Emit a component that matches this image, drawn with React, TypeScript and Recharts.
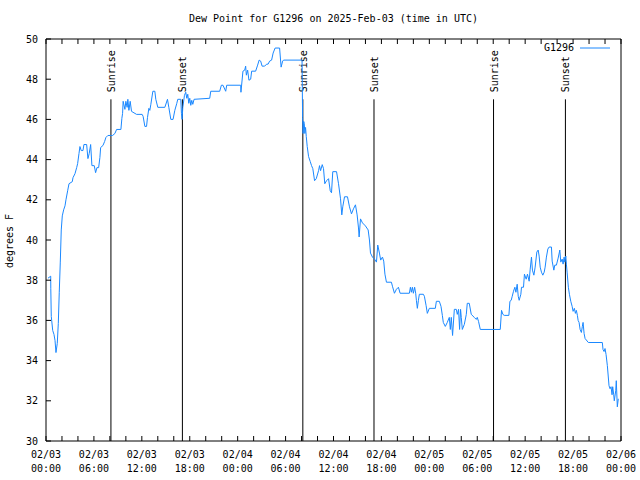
import React from 'react';
import { LineChart, Line, XAxis, YAxis, ReferenceLine, Legend } from 'recharts';

// hours since 02/03 00:00 UTC, dew point in F
const day1 = [
  [0.25, 38.1], [0.59, 38.2], [0.6, 37.6], [0.66, 36.2], [0.84, 35.5], [1.0, 35.3], [1.13, 35.0], [1.25, 34.4],
  [1.41, 34.85], [1.54, 35.85], [1.66, 37.4], [1.79, 38.9], [1.91, 40.5], [2.04, 41.2], [2.21, 41.5], [2.38, 41.7],
  [2.5, 42.0], [2.71, 42.45], [2.88, 42.8], [3.29, 42.9], [3.38, 43.1], [3.63, 43.3], [3.84, 43.6], [3.96, 43.8],
  [4.13, 44.3], [4.25, 44.65], [4.41, 44.45], [4.63, 44.45], [4.75, 44.75], [5.09, 44.75], [5.25, 44.05], [5.41, 44.3],
  [5.59, 44.75], [5.75, 43.7], [6.04, 43.7], [6.21, 43.35], [6.38, 43.6], [6.59, 43.6], [6.75, 44.1], [6.84, 44.6],
  [7.13, 44.7], [7.34, 44.9], [7.5, 45.1], [7.75, 45.2], [8.13, 45.2], [8.34, 45.2], [8.63, 45.3], [8.84, 45.5],
  [9.38, 45.5], [9.5, 46.05], [9.59, 46.3], [9.66, 46.9], [9.88, 46.5], [10.0, 46.9], [10.16, 46.6], [10.25, 47.0],
  [10.38, 46.45], [10.54, 46.9], [10.71, 46.4], [11.34, 46.25], [12.04, 46.25], [12.16, 46.15], [12.38, 45.65],
  [12.59, 45.65], [12.71, 46.1], [12.88, 46.55], [13.0, 46.45], [13.13, 46.75], [13.38, 47.4], [13.63, 47.4],
  [13.75, 47.0], [14.0, 46.6], [14.88, 46.6], [15.21, 47.0], [15.38, 46.6], [15.63, 46.0], [15.91, 46.0],
  [16.13, 46.45], [16.38, 46.8], [16.5, 47.0], [16.88, 47.0], [16.96, 46.3], [17.04, 46.0], [17.13, 46.6],
  [17.34, 47.2], [17.5, 47.35], [17.63, 47.05], [17.75, 47.25], [17.88, 46.8], [18.0, 47.05], [18.13, 46.7],
  [18.25, 46.95], [18.38, 46.75], [18.54, 47.0], [20.5, 47.05], [20.63, 47.4], [21.75, 47.4], [21.96, 47.7],
  [22.16, 47.7], [22.5, 47.4], [22.63, 47.7], [24.38, 47.7],
];

const day2 = [
  [24.41, 47.35], [24.66, 48.4], [24.88, 48.45], [25.0, 48.65], [25.09, 48.2], [25.25, 48.45], [25.41, 47.95],
  [25.63, 48.0], [25.75, 48.4], [26.25, 48.4], [26.5, 48.7], [26.69, 48.95], [26.88, 48.9], [27.06, 48.65],
  [27.38, 48.65], [27.63, 48.75], [27.81, 48.75], [28.0, 48.9], [28.25, 48.95], [28.44, 49.3], [28.69, 49.55],
  [29.25, 49.55], [29.44, 48.6], [29.63, 48.9], [29.75, 48.95], [32.06, 48.95], [32.13, 46.1], [32.19, 45.3],
  [32.27, 45.9], [32.34, 45.8], [32.41, 45.3], [32.5, 45.6], [32.59, 45.15], [32.71, 44.65], [32.88, 44.15],
  [33.09, 43.9], [33.25, 43.7], [33.41, 43.55], [33.63, 42.95], [33.84, 43.05], [34.13, 43.45], [34.25, 43.7],
  [34.38, 43.45], [34.59, 43.75], [34.75, 43.55], [34.91, 42.8], [35.13, 42.95], [35.38, 43.05], [35.59, 42.45],
  [35.75, 42.35], [35.91, 43.4], [36.38, 43.4], [36.63, 42.8], [36.88, 42.05], [37.04, 41.25], [37.16, 41.65],
  [37.38, 42.15], [37.75, 42.15], [38.0, 41.65], [38.25, 41.3], [38.5, 41.55], [38.75, 41.75], [38.96, 41.25],
  [39.13, 40.6], [39.21, 40.15], [39.38, 41.05], [39.63, 40.85], [40.0, 40.7], [40.34, 40.5], [40.5, 40.0],
  [40.63, 39.35], [40.88, 39.15], [41.13, 39.05], [41.38, 38.9], [41.54, 39.75], [41.75, 39.35], [41.91, 39.0],
  [42.13, 39.15], [42.29, 38.95], [42.44, 38.3], [42.63, 37.9], [43.25, 37.9], [43.38, 37.7], [43.63, 37.35],
  [43.88, 37.55], [44.13, 37.65], [44.34, 37.35], [45.5, 37.35], [45.63, 37.65], [45.75, 37.4], [45.88, 37.65],
  [46.0, 37.35], [46.16, 37.65], [46.29, 37.35], [46.38, 37.0], [46.5, 36.6], [46.63, 37.0], [46.75, 37.3],
  [47.25, 37.3], [47.38, 37.2], [47.59, 36.75], [47.75, 36.35], [48.0, 36.6],
];

const day3 = [
  [48.75, 36.6], [48.88, 36.95], [49.25, 36.95], [49.46, 36.7], [49.63, 36.25], [49.75, 35.9], [50.0, 35.7],
  [50.25, 35.9], [50.5, 36.15], [50.63, 35.55], [50.75, 36.15], [50.91, 35.25], [51.13, 36.55], [51.38, 36.55],
  [51.5, 36.3], [51.66, 36.55], [51.79, 35.55], [51.91, 36.55], [52.0, 36.15], [52.13, 35.55], [52.38, 35.8],
  [52.63, 36.3], [52.75, 36.85], [53.0, 36.85], [53.25, 36.3], [53.63, 36.15], [53.88, 36.05], [54.0, 36.15],
  [54.16, 35.95], [54.38, 35.55], [56.88, 35.55], [57.04, 36.5], [57.21, 36.3], [57.38, 36.25], [57.96, 36.25],
  [58.09, 36.95], [58.25, 37.0], [58.38, 37.2], [58.54, 37.45], [58.71, 37.65], [58.84, 37.4], [59.0, 37.8],
  [59.13, 37.2], [59.25, 37.0], [59.46, 37.3], [59.54, 37.65], [59.79, 37.65], [59.91, 38.3], [60.13, 38.05],
  [60.29, 38.3], [60.5, 37.95], [60.63, 38.55], [60.79, 39.15], [60.91, 38.5], [61.09, 38.25], [61.25, 38.65],
  [61.46, 39.4], [61.63, 39.5], [61.75, 39.2], [61.88, 38.65], [62.04, 38.4], [62.21, 38.25], [62.38, 38.4],
  [62.5, 38.65], [62.66, 39.15], [62.84, 39.55], [63.0, 39.65], [63.29, 39.65], [63.38, 38.95], [63.59, 38.5],
  [63.71, 38.75], [63.91, 38.75], [64.13, 39.1], [64.34, 39.5], [64.46, 38.9], [64.63, 39.05], [64.75, 38.8],
  [64.88, 39.15], [64.96, 38.9], [65.09, 39.2], [65.16, 38.8], [65.25, 38.4], [65.41, 37.65], [65.54, 37.3],
  [65.71, 36.95], [65.88, 36.7], [66.0, 36.45], [66.16, 36.6], [66.29, 36.35], [66.41, 36.5], [66.54, 36.25],
  [66.63, 36.0], [66.75, 35.9], [66.88, 35.55], [67.04, 35.4], [67.16, 35.7], [67.25, 35.9], [67.38, 35.35],
  [67.5, 35.1], [67.91, 34.9], [69.66, 34.9], [69.75, 34.55], [69.88, 34.45], [70.0, 34.6], [70.13, 34.3],
  [70.29, 33.75], [70.5, 32.75], [70.63, 32.6], [70.75, 32.7], [70.88, 32.3], [70.96, 32.7], [71.09, 32.3],
  [71.16, 32.0], [71.34, 32.5], [71.41, 33.0], [71.54, 31.7], [71.66, 32.1],
];

const sunEvents = ['Sunrise', 'Sunset', 'Sunrise', 'Sunset', 'Sunrise', 'Sunset'];
const sunHours = [8.13, 17.08, 32.16, 41.07, 56.04, 65.04];
const sunLineTop = 47;

const xTicks = Array.from({ length: 37 }, (_, i) => i * 2);
const yTicks = [30, 32, 34, 36, 38, 40, 42, 44, 46, 48, 50];
const startDay = 3;

const data = [...day1, ...day2, ...day3].map(([h, v]) => ({ h, v }));

const FONT = '"DejaVu Sans Mono", "Liberation Mono", monospace';
const LINE_COLOR = '#1a88ff';

const pad = (n: number) => (n < 10 ? '0' + n : '' + n);

const XTick = (props: any) => {
  const { x, y, payload } = props;
  const h = payload.value;
  if (h % 6 !== 0) return <g />;
  const day = startDay + Math.floor(h / 24);
  return (
    <text textAnchor="middle" fontSize={10} fontFamily={FONT} fill="#000">
      <tspan x={x} y={y + 17}>{`02/${pad(day)}`}</tspan>
      <tspan x={x} y={y + 31}>{`${pad(h % 24)}:00`}</tspan>
    </text>
  );
};

const NoTick = () => <g />;

const SunLabel = (props: any) => {
  const { viewBox, text } = props;
  const x = viewBox.x;
  const y = viewBox.y;
  return (
    <text transform={`translate(${x + 4},${y - 7}) rotate(-90)`} fontSize={10} fontFamily={FONT} fill="#000">
      {text}
    </text>
  );
};

const LegendBox = (props: any) => {
  const name = props.payload && props.payload[0] ? props.payload[0].value : '';
  return (
    <div style={{ display: 'flex', alignItems: 'center', fontFamily: FONT, fontSize: 10, color: '#000' }}>
      <span>{name}</span>
      <svg width={30} height={10} style={{ marginLeft: 6 }}>
        <line x1={0} x2={30} y1={5} y2={5} stroke={LINE_COLOR} strokeWidth={1} />
      </svg>
    </div>
  );
};

const axisStyle = { stroke: '#000', strokeWidth: 1 };

export default function App() {
  return (
    <div style={{ position: 'absolute', left: 0, top: 0, width: 640, height: 480, background: '#fff' }}>
      <div style={{ position: 'absolute', left: 46, top: 13, width: 575, textAlign: 'center', fontFamily: FONT, fontSize: 10, lineHeight: '12px' }}>
        Dew Point for G1296 on 2025-Feb-03 (time in UTC)
      </div>
      <div style={{ position: 'absolute', left: -30, top: 235, width: 80, height: 12, lineHeight: '12px', textAlign: 'center', fontFamily: FONT, fontSize: 10, transform: 'rotate(-90deg)' }}>
        degrees F
      </div>
      <LineChart width={640} height={480} data={data} margin={{ top: 0, right: 0, bottom: 0, left: 0 }}>
        <XAxis xAxisId="b" dataKey="h" type="number" domain={[0, 72]} ticks={xTicks} interval={0} height={39}
          tickSize={-5} tickMargin={5} axisLine={axisStyle} tickLine={axisStyle} tick={<XTick />} />
        <XAxis xAxisId="t" dataKey="h" type="number" orientation="top" domain={[0, 72]} ticks={xTicks} interval={0} height={39}
          tickSize={-5} axisLine={axisStyle} tickLine={axisStyle} tick={<NoTick />} />
        <YAxis yAxisId="l" type="number" domain={[30, 50]} ticks={yTicks} interval={0} width={46}
          tickSize={-5} tickMargin={13} axisLine={axisStyle} tickLine={axisStyle}
          tick={{ fontSize: 10, fontFamily: FONT, fill: '#000' }} />
        <YAxis yAxisId="r" type="number" orientation="right" domain={[30, 50]} ticks={yTicks} interval={0} width={19}
          tickSize={-5} axisLine={axisStyle} tickLine={axisStyle} tick={<NoTick />} />
        {sunHours.map((h, i) => (
          <ReferenceLine key={i} xAxisId="b" yAxisId="l" segment={[{ x: h, y: 30 }, { x: h, y: sunLineTop }]}
            stroke="#000" strokeWidth={1} ifOverflow="visible" label={<SunLabel text={sunEvents[i]} />} />
        ))}
        <Legend layout="vertical" align="center" verticalAlign="middle" wrapperStyle={{ top: 42, left: 544 }} content={<LegendBox />} />
        <Line xAxisId="b" yAxisId="l" type="linear" dataKey="v" name="G1296" stroke={LINE_COLOR} strokeWidth={1}
          dot={false} activeDot={false} isAnimationActive={false} />
      </LineChart>
    </div>
  );
}
